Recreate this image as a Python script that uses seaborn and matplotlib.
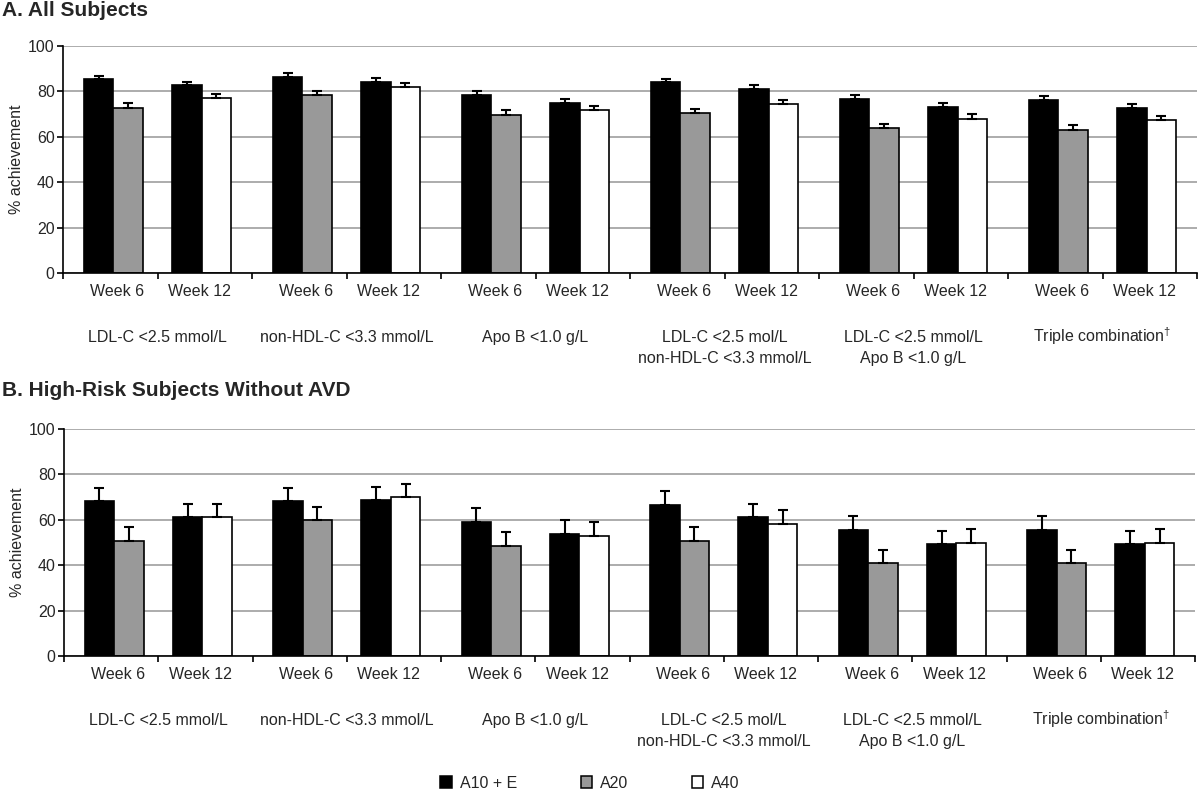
import numpy as np
import pandas as pd
import matplotlib
matplotlib.use("Agg")
import matplotlib.pyplot as plt
from matplotlib.patches import Patch
import seaborn as sns

# ---------------- data ----------------
groups = ["LDL-C <2.5 mmol/L", "non-HDL-C <3.3 mmol/L", "Apo B <1.0 g/L",
          "LDL-C <2.5 mol/L\nnon-HDL-C <3.3 mmol/L",
          "LDL-C <2.5 mmol/L\nApo B <1.0 g/L", "Triple combination$^{\\dagger}$"]
week_labels = ["Week 6", "Week 12"]
treatments = ["A10 + E", "A20", "A40"]

# panel A: All subjects (order per group: W6 A10+E, W6 A20, W12 A10+E, W12 A40)
a_w6_a10e = [85.6, 86.3, 78.4, 84.3, 76.5, 76.2]
a_w6_a20 = [72.8, 78.3, 69.7, 70.4, 63.7, 63.0]
a_w12_a10e = [82.7, 84.3, 74.9, 81.2, 73.0, 72.7]
a_w12_a40 = [77.2, 82.1, 71.7, 74.3, 68.0, 67.4]
a_err_w6_a10e = [1.3, 1.7, 1.9, 1.3, 1.8, 1.8]
a_err_w6_a20 = [1.9, 1.7, 2.0, 2.0, 2.1, 2.2]
a_err_w12_a10e = [1.6, 1.5, 1.9, 1.6, 1.7, 1.9]
a_err_w12_a40 = [1.8, 1.6, 2.0, 2.0, 1.9, 1.9]

# panel B: High-risk subjects without AVD
b_w6_a10e = [68.3, 68.3, 58.9, 66.7, 55.7, 55.7]
b_w6_a20 = [50.7, 59.8, 48.6, 50.7, 40.8, 40.8]
b_w12_a10e = [61.4, 68.9, 53.9, 61.4, 49.3, 49.3]
b_w12_a40 = [61.4, 70.0, 53.0, 58.1, 49.9, 49.9]
b_err_w6_a10e = [5.7, 5.7, 6.2, 5.8, 6.1, 6.1]
b_err_w6_a20 = [6.3, 6.0, 6.2, 6.3, 6.0, 6.0]
b_err_w12_a10e = [5.7, 5.4, 6.2, 5.7, 5.9, 5.9]
b_err_w12_a40 = [5.7, 5.6, 6.0, 6.1, 6.2, 6.2]

slot_order = ["W6 A10+E", "W6 A20", "gap", "W12 A10+E", "W12 A40"]
palette = {"W6 A10+E": "black", "W6 A20": "#999999", "gap": "white",
           "W12 A10+E": "black", "W12 A40": "white"}


def make_df(vals, errs):
    rows = []
    names = ["W6 A10+E", "W6 A20", "W12 A10+E", "W12 A40"]
    for s, (v, e) in enumerate(zip(vals, errs)):
        for g in range(len(groups)):
            rows.append({"group": groups[g], "gidx": g, "slot": names[s],
                         "sidx": slot_order.index(names[s]),
                         "value": v[g], "err": e[g]})
    return pd.DataFrame(rows)


dfA = make_df([a_w6_a10e, a_w6_a20, a_w12_a10e, a_w12_a40],
              [a_err_w6_a10e, a_err_w6_a20, a_err_w12_a10e, a_err_w12_a40])
dfB = make_df([b_w6_a10e, b_w6_a20, b_w12_a10e, b_w12_a40],
              [b_err_w6_a10e, b_err_w6_a20, b_err_w12_a10e, b_err_w12_a40])

# ---------------- style ----------------
sns.set_theme(style="white")
plt.rcParams["font.family"] = ["Liberation Sans", "DejaVu Sans"]
plt.rcParams["mathtext.fontset"] = "custom"
plt.rcParams["mathtext.rm"] = "Liberation Sans"
FS = 11.5

fig = plt.figure(figsize=(12, 7.91), dpi=100)
W, H = 1200, 791
axA = fig.add_axes([63 / W, 1 - 273 / H, 1134 / W, 227 / H])
axB = fig.add_axes([64 / W, 1 - 656 / H, 1131 / W, 227 / H])


def draw(ax, df):
    sns.barplot(data=df, x="group", y="value", hue="slot", order=groups,
                hue_order=slot_order, palette=palette, width=0.78,
                edgecolor="black", linewidth=1.2, errorbar=None,
                saturation=1, legend=False, ax=ax, zorder=2)
    bars = [p for p in ax.patches if p.get_height() > 0]
    bars.sort(key=lambda p: p.get_x())
    d = df.sort_values(["gidx", "sidx"]).reset_index(drop=True)
    for p, (_, r) in zip(bars, d.iterrows()):
        xc = p.get_x() + p.get_width() / 2
        ax.errorbar(xc, p.get_height(), yerr=[[0], [r["err"]]], fmt="none",
                    ecolor="black", elinewidth=1.5, capsize=3.5,
                    capthick=1.5, zorder=3)
    ax.set_xlim(-0.5, len(groups) - 0.5)
    ax.set_ylim(0, 100)
    ax.set_yticks(np.arange(0, 101, 20))
    ax.yaxis.grid(True, color="#a6a6a6", linewidth=1.3)
    ax.xaxis.grid(False)
    ax.set_axisbelow(True)
    for s in ["top", "right"]:
        ax.spines[s].set_visible(False)
    for s in ["left", "bottom"]:
        ax.spines[s].set_color("black")
        ax.spines[s].set_linewidth(1.2)
    # major ticks at slot boundaries (no labels)
    ax.set_xticks(np.arange(-0.5, len(groups) - 0.49, 0.5))
    ax.set_xticklabels([])
    ax.tick_params(axis="x", which="major", direction="out", length=4,
                   width=1.2, color="black", bottom=True)
    # week labels as minor ticks
    minor_pos = []
    minor_lab = []
    for g in range(len(groups)):
        minor_pos += [g - 0.215, g + 0.222]
        minor_lab += week_labels
    ax.set_xticks(minor_pos, minor=True)
    ax.set_xticklabels(minor_lab, minor=True, fontsize=FS)
    ax.tick_params(axis="x", which="minor", length=0, pad=8)
    ax.tick_params(axis="y", which="major", direction="out", length=4,
                   width=1.2, color="black", left=True, labelsize=FS, pad=2)
    ax.set_xlabel("")
    ax.set_ylabel("% achievement", fontsize=FS, labelpad=3)
    for g, lab in enumerate(groups):
        for i, line in enumerate(lab.split("\n")):
            ax.annotate(line, xy=(g, 0), xycoords=("data", "axes fraction"),
                        xytext=(0, -49.5 - 15.2 * i), textcoords="offset points",
                        ha="center", va="baseline", fontsize=FS)


draw(axA, dfA)
draw(axB, dfB)

fig.text(0.002, 1 - 11 / H, "A. All Subjects", fontsize=15,
         fontweight="bold", ha="left", va="center")
fig.text(0.002, 1 - 390 / H, "B. High-Risk Subjects Without AVD",
         fontsize=15, fontweight="bold", ha="left", va="center")

leg_colors = ["black", "#999999", "white"]
handles = [Patch(facecolor=c, edgecolor="black", linewidth=1.1, label=t)
           for c, t in zip(leg_colors, treatments)]
fig.legend(handles=handles, loc="center", bbox_to_anchor=(590 / W, 1 - 783 / H),
           ncol=3, frameon=False, handlelength=0.7, handleheight=0.7,
           columnspacing=4.0, handletextpad=0.5, fontsize=FS)

fig.savefig("out.png", dpi=100)
